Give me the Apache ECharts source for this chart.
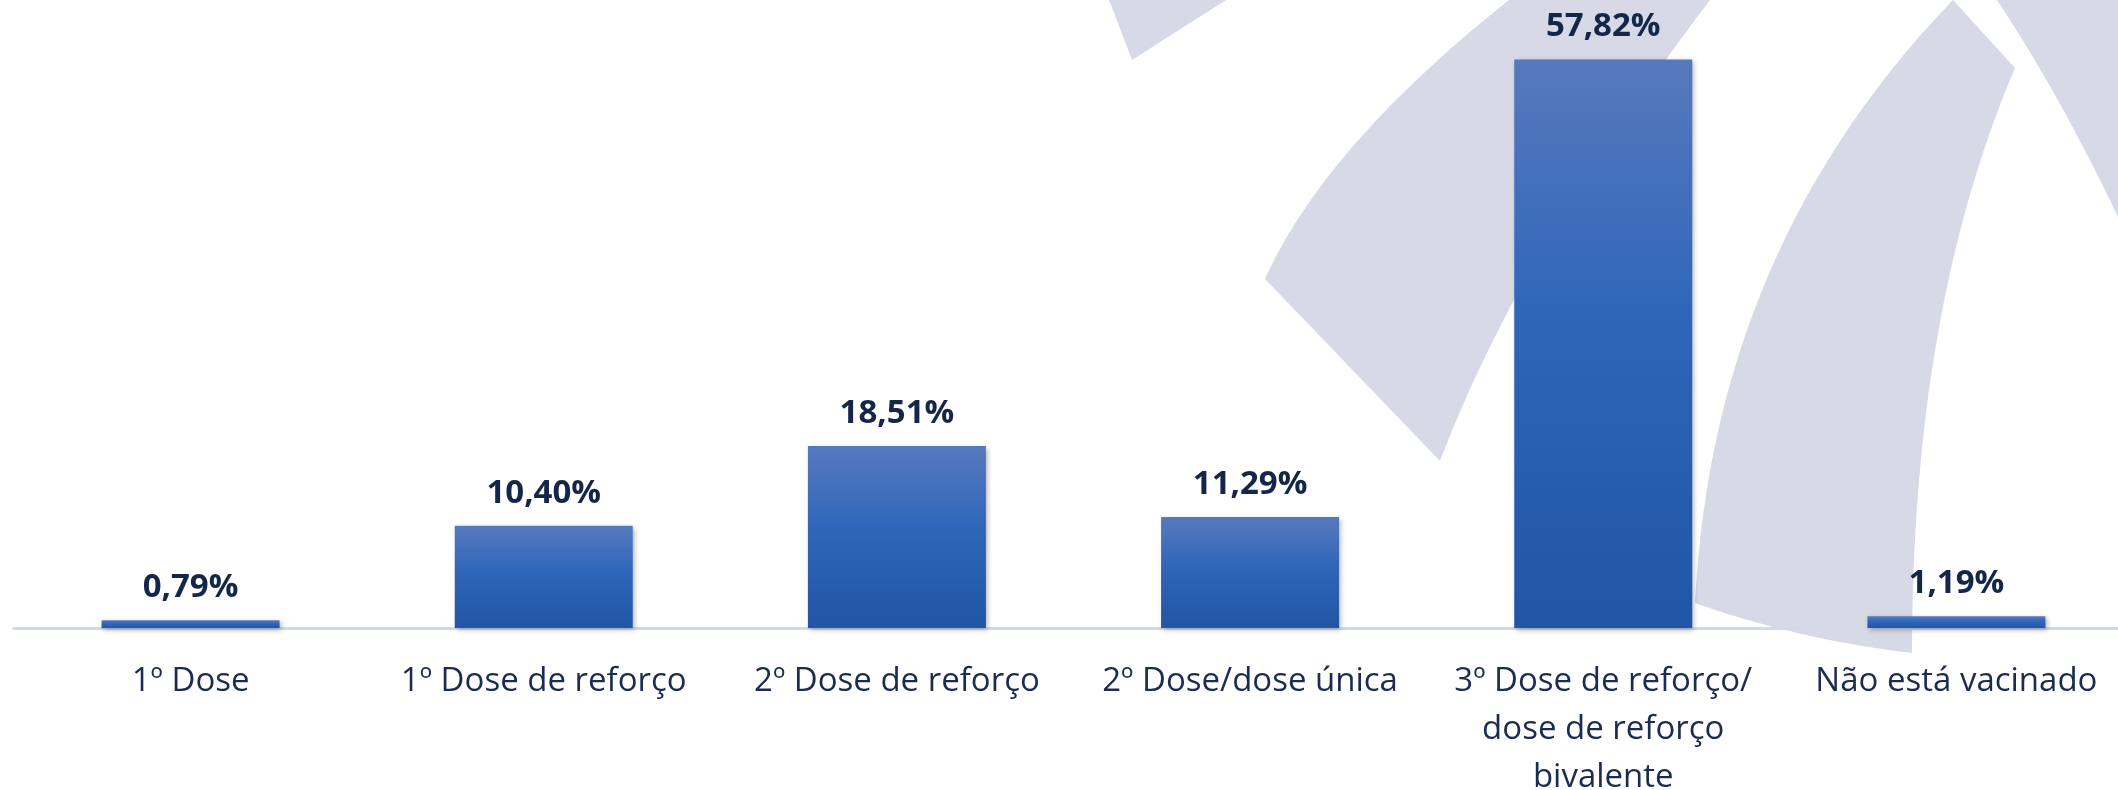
<!DOCTYPE html>
<html>
<head>
<meta charset="utf-8">
<script src="https://cdn.jsdelivr.net/npm/echarts@6/dist/echarts.min.js"></script>
<style>
  html, body { margin: 0; padding: 0; background: #ffffff; }
  #chart { width: 2118px; height: 790px; }
</style>
</head>
<body>
<div id="chart"></div>
<script>
const categories = [
  '1º Dose',
  '1º Dose de reforço',
  '2º Dose de reforço',
  '2º Dose/dose única',
  '3º Dose de reforço/\ndose de reforço\nbivalente',
  'Não está vacinado'
];
const values = [0.79, 10.40, 18.51, 11.29, 57.82, 1.19];

const watermarkColor = '#d7dae6';
// decorative watermark outlines: segments are [L, x, y] or [Q, cx, cy, x, y]
const watermarkShapes = [
  [[1109, 0], ['L', 1226, 0], ['L', 1132, 60]],
  [[1509, 0], ['L', 1710, 0], ['Q', 1520, 250, 1440, 461], ['L', 1265, 279], ['Q', 1325, 146, 1509, 0]],
  [[1953, 0], ['L', 2015, 68], ['Q', 1912, 309, 1912, 653], ['Q', 1800, 640, 1695, 603], ['Q', 1713, 248, 1953, 0]],
  [[1997, 0], ['L', 2118, 0], ['L', 2118, 217], ['Q', 2060, 95, 1997, 0]]
];

function shapeToPoints(shape) {
  const pts = [shape[0].slice()];
  let cur = shape[0];
  for (let i = 1; i < shape.length; i++) {
    const s = shape[i];
    if (s[0] === 'L') {
      cur = [s[1], s[2]];
      pts.push(cur);
    } else {
      const c = [s[1], s[2]], e = [s[3], s[4]];
      for (let k = 1; k <= 30; k++) {
        const t = k / 30, u = 1 - t;
        pts.push([u * u * cur[0] + 2 * u * t * c[0] + t * t * e[0],
                  u * u * cur[1] + 2 * u * t * c[1] + t * t * e[1]]);
      }
      cur = e;
    }
  }
  return pts;
}

const chart = echarts.init(document.getElementById('chart'), null, { renderer: 'canvas' });

const option = {
  backgroundColor: '#ffffff',
  animation: false,
  graphic: {
    elements: watermarkShapes.map(function (s) {
      return {
        type: 'polygon',
        z: -1,
        silent: true,
        shape: { points: shapeToPoints(s) },
        style: { fill: watermarkColor }
      };
    })
  },
  grid: { left: 14, top: 38, width: 2119, height: 590, containLabel: false, outerBoundsMode: 'none' },
  xAxis: {
    type: 'category',
    data: categories,
    axisLine: { show: true, lineStyle: { color: '#cfdaf0', width: 3 } },
    axisTick: { show: false },
    axisLabel: {
      interval: 0,
      margin: 30,
      fontFamily: '"Open Sans", sans-serif',
      fontSize: 33,
      lineHeight: 48,
      color: '#1b2c50',
      align: 'center',
      hideOverlap: false
    }
  },
  yAxis: {
    type: 'value',
    min: 0,
    max: 60,
    show: false,
    splitLine: { show: false }
  },
  series: [{
    type: 'bar',
    data: values,
    barWidth: '50.4%',
    itemStyle: {
      color: {
        type: 'linear', x: 0, y: 0, x2: 0, y2: 1,
        colorStops: [
          { offset: 0, color: '#5779bd' },
          { offset: 0.45, color: '#2f66b9' },
          { offset: 1, color: '#2155a5' }
        ]
      },
      shadowColor: 'rgba(0,0,0,0.3)',
      shadowBlur: 5,
      shadowOffsetX: 2,
      shadowOffsetY: 2
    },
    label: {
      show: true,
      position: 'top',
      distance: 16,
      fontFamily: '"Open Sans", sans-serif',
      fontWeight: 'bold',
      fontSize: 33,
      color: '#142749',
      formatter: function (p) {
        return p.value.toFixed(2).replace('.', ',') + '%';
      }
    }
  }]
};

chart.setOption(option);
</script>
</body>
</html>
